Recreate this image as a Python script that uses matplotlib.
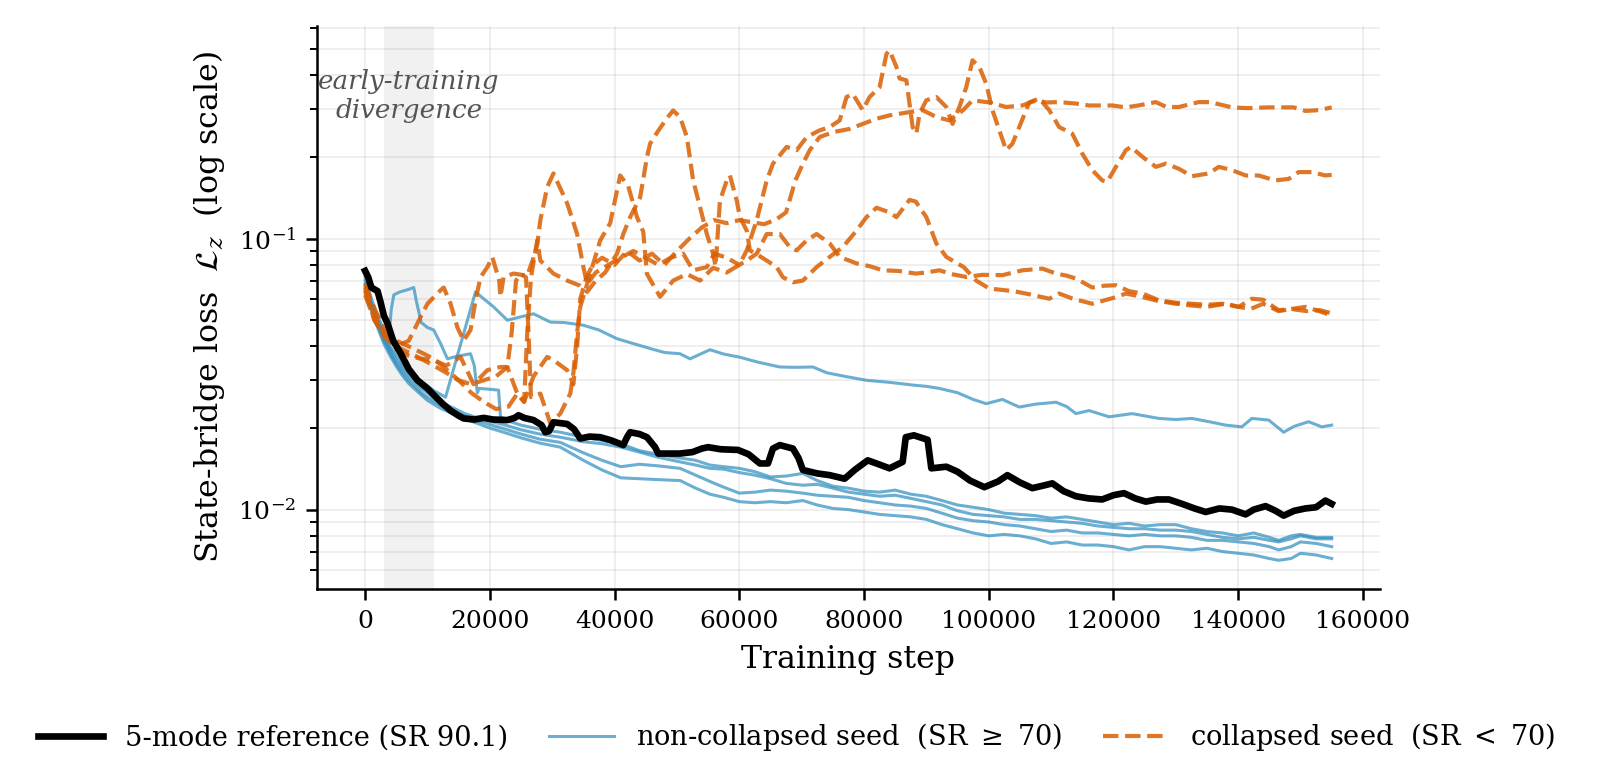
import matplotlib
matplotlib.use("Agg")
import matplotlib.pyplot as plt
from matplotlib.lines import Line2D

# ---------------- data (step, loss) ----------------
REF = [(0,0.076),(500,0.072),(1000,0.066),(1500,0.065),(2000,0.064),(2500,0.058),(3000,0.052),(3600,0.0486),
       (4500,0.042),(5700,0.0377),(7000,0.033),(8400,0.030),(10000,0.028),(11000,0.0265),(12500,0.0245),
       (13700,0.0232),(15000,0.0222),(15800,0.0217),(17500,0.0215),(19000,0.0218),(20500,0.0215),(22800,0.0214),
       (24000,0.0218),(24600,0.0223),(25500,0.0218),(27000,0.0214),(28300,0.0205),(28900,0.0193),(29500,0.0195),
       (30200,0.021),(32400,0.0207),(33500,0.0198),(34500,0.0183),(36000,0.0186),(37700,0.0185),(39500,0.018),
       (41400,0.0173),(42000,0.0185),(42500,0.0193),(44000,0.019),(45200,0.0185),(46500,0.017),(47000,0.0161),
       (50500,0.0161),(52500,0.0163),(54000,0.0168),(55000,0.017),(57000,0.0167),(59800,0.0166),(61500,0.016),
       (63300,0.0148),(64600,0.0148),(65400,0.0168),(66500,0.0173),(68600,0.0168),(69500,0.0155),(70200,0.014),
       (72500,0.0136),(74500,0.0134),(76900,0.013),(78500,0.014),(80600,0.0152),(82000,0.0148),(84100,0.0142),
       (86200,0.015),(86700,0.0185),(88000,0.0188),(90200,0.0181),(90800,0.0142),(93200,0.0144),(95000,0.0138),
       (97000,0.0128),(99300,0.0121),(101500,0.0127),(103000,0.0134),(105000,0.0126),(107000,0.012),(109000,0.0123),
       (110200,0.0125),(112000,0.0117),(114000,0.0112),(116000,0.011),(118200,0.0109),(120000,0.0113),(121700,0.0115),
       (123500,0.011),(125200,0.0107),(127000,0.0109),(128900,0.0109),(131000,0.0105),(133000,0.0101),(134800,0.0098),
       (137000,0.0101),(139000,0.0100),(141200,0.0096),(142500,0.0100),(144400,0.0103),(146000,0.0099),(147300,0.0095),
       (149000,0.0099),(150800,0.0101),(152500,0.0102),(154000,0.0108),(155000,0.0105)]

BLUE_1 = [(0,0.070),(1000,0.058),(2000,0.050),(3000,0.045),(4000,0.040),(5000,0.037),(6000,0.034),(7000,0.032),
          (8000,0.0305),(9000,0.0295),(10000,0.0285),(11000,0.0275),(12900,0.026),(17700,0.0636),(19000,0.060),
          (20600,0.056),(22800,0.050),(24900,0.0514),(27000,0.0528),(29700,0.0492),(32000,0.0490),(35000,0.0479),
          (37500,0.0460),(40400,0.0427),(43000,0.0410),(45700,0.0393),(48000,0.0380),(50500,0.0376),(52100,0.0360),
          (55300,0.0389),(57500,0.0375),(60100,0.0365),(63000,0.0350),(66500,0.0336),(69000,0.0335),(71800,0.0336),
          (74000,0.0320),(77000,0.0310),(80400,0.0300),(84000,0.0295),(87900,0.0288),(90000,0.0285),(92100,0.0280),
          (95000,0.0270),(97500,0.0255),(99600,0.0246),(102200,0.0255),(104900,0.0239),(107500,0.0245),(110800,0.0249),
          (112500,0.0240),(114000,0.0226),(116100,0.0232),(119300,0.0220),(123000,0.0226),(127300,0.0217),
          (130000,0.0215),(132600,0.0217),(135800,0.0210),(138000,0.0205),(140600,0.0202),(142200,0.0217),
          (144900,0.0214),(147300,0.0193),(149000,0.0203),(151300,0.0211),(153400,0.0202),(155000,0.0205)]

BLUE_2 = [(0,0.072),(1000,0.060),(2000,0.052),(3000,0.046),(3800,0.043),(4200,0.055),(4600,0.062),(5500,0.0635),
          (7000,0.065),(7800,0.066),(8200,0.059),(9000,0.049),(10000,0.047),(11000,0.046),(12100,0.041),(13200,0.036),
          (14300,0.0366),(16900,0.0376),(17500,0.034),(18000,0.027),(18300,0.028),(20000,0.0278),(21400,0.0276),
          (21700,0.022),(23000,0.0212),(25000,0.0205),(28000,0.0198),(31300,0.0193),(35000,0.0185),(38000,0.018),
          (41000,0.0175),(44000,0.0165),(47000,0.016),(50500,0.0155),(53000,0.0152),(55300,0.0146),(57500,0.0144),
          (60000,0.0142),(62500,0.0138),(65000,0.0132),(67500,0.0133),(70200,0.0136),(72500,0.0128),(75000,0.0122),
          (77500,0.0120),(80000,0.0117),(82500,0.0116),(85000,0.0118),(87500,0.0114),(90000,0.0112),(92500,0.0108),
          (95000,0.0104),(97500,0.0102),(100000,0.0100),(102500,0.0097),(105000,0.0096),(107500,0.0095),
          (110000,0.0093),(112500,0.0094),(115000,0.0092),(117500,0.0090),(120000,0.0088),(122500,0.0089),
          (125000,0.0087),(127500,0.0088),(130000,0.0088),(132500,0.0085),(135000,0.0083),(137500,0.0082),
          (140000,0.0080),(142500,0.0082),(145000,0.0079),(146500,0.0077),(148500,0.0080),(150000,0.0081),
          (152500,0.0079),(155000,0.0079)]

BLUE_3 = [(0,0.068),(1000,0.057),(2000,0.049),(3000,0.043),(4000,0.039),(5000,0.0355),(6000,0.033),(7000,0.031),
          (8000,0.0295),(9000,0.028),(10000,0.027),(12000,0.025),(14000,0.0238),(16000,0.0226),(18000,0.0218),
          (20000,0.0212),(22500,0.0205),(25000,0.0197),(28000,0.019),(31300,0.0185),(35000,0.0178),(38000,0.0175),
          (41000,0.0170),(44000,0.0163),(47000,0.0156),(50500,0.0150),(53000,0.0146),(55300,0.0142),(57500,0.0141),
          (60000,0.0137),(62500,0.0134),(65000,0.0130),(67500,0.0125),(70200,0.0123),(72500,0.0124),(75000,0.0120),
          (77500,0.0116),(80000,0.0114),(82500,0.0112),(85000,0.0113),(87500,0.0110),(90000,0.0107),(92500,0.0104),
          (95000,0.0099),(97500,0.0096),(100000,0.0095),(102500,0.0094),(105000,0.0092),(107500,0.0092),
          (110000,0.0091),(112500,0.0090),(115000,0.0089),(117500,0.0087),(120000,0.0086),(122500,0.0085),
          (125000,0.0085),(127500,0.0084),(130000,0.0084),(132500,0.0083),(135000,0.0081),(137500,0.0079),
          (140000,0.0078),(142500,0.0079),(145000,0.0077),(146500,0.0076),(148500,0.0078),(150000,0.0080),
          (152500,0.0078),(155000,0.0078)]

BLUE_4 = [(0,0.066),(1000,0.056),(2000,0.048),(3000,0.042),(4000,0.038),(5000,0.0345),(6000,0.032),(7000,0.030),
          (8000,0.0285),(9000,0.027),(10000,0.026),(12000,0.0243),(14000,0.0232),(16000,0.0221),(18000,0.0213),
          (20000,0.0206),(22500,0.0198),(25000,0.0190),(28000,0.0182),(31300,0.0177),(35000,0.0162),(38000,0.0152),
          (41000,0.0144),(44000,0.0147),(47000,0.0145),(50500,0.0142),(53000,0.0134),(55300,0.0127),(57500,0.0121),
          (60000,0.0115),(62500,0.0116),(65000,0.0118),(67500,0.0117),(70200,0.0115),(72500,0.0113),(75000,0.0112),
          (77500,0.0111),(80000,0.0108),(82500,0.0106),(85000,0.0104),(87500,0.0103),(90000,0.0101),(92500,0.0097),
          (95000,0.0093),(97500,0.0091),(100000,0.0090),(102500,0.0088),(105000,0.0087),(107500,0.0085),
          (110000,0.0083),(112500,0.0084),(115000,0.0082),(117500,0.0082),(120000,0.0081),(122500,0.0080),
          (125000,0.0081),(127500,0.0080),(130000,0.0080),(132500,0.0079),(135000,0.0077),(137500,0.0077),
          (140000,0.0076),(142500,0.0075),(145000,0.0073),(146500,0.0071),(148500,0.0073),(150000,0.0076),
          (152500,0.0075),(155000,0.0073)]

BLUE_5 = [(0,0.064),(1000,0.054),(2000,0.047),(3000,0.041),(4000,0.037),(5000,0.0338),(6000,0.0312),(7000,0.0292),
          (8000,0.0278),(9000,0.0265),(10000,0.0253),(12000,0.0237),(14000,0.0226),(16000,0.0216),(18000,0.0208),
          (20000,0.0200),(22500,0.0192),(25000,0.0184),(28000,0.0176),(31300,0.0170),(35000,0.0152),(38000,0.0140),
          (41000,0.0131),(44000,0.0130),(47000,0.0129),(50500,0.0128),(53000,0.0120),(55300,0.0114),(57500,0.0111),
          (60000,0.0107),(62500,0.0106),(65000,0.0107),(67500,0.0106),(70200,0.0108),(72500,0.0104),(75000,0.0101),
          (77500,0.0100),(80000,0.0098),(82500,0.0096),(85000,0.0095),(87500,0.0094),(90000,0.0092),(92500,0.0088),
          (95000,0.0085),(97500,0.0082),(100000,0.0080),(102500,0.0081),(105000,0.0080),(107500,0.0078),
          (110000,0.0075),(112500,0.0076),(115000,0.0074),(117500,0.0074),(120000,0.0073),(122500,0.0071),
          (125000,0.0073),(127500,0.0073),(130000,0.0072),(132500,0.0071),(135000,0.0072),(137500,0.0070),
          (140000,0.0069),(142500,0.0068),(145000,0.0066),(146500,0.0065),(148500,0.0066),(150000,0.0069),
          (152500,0.0068),(155000,0.0066)]

ORANGE_1 = [(0,0.066),(1500,0.052),(3000,0.045),(5000,0.040),(7000,0.038),(9000,0.036),(11000,0.0356),(13000,0.034),
            (15300,0.0366),(17400,0.029),(19600,0.0327),(21700,0.0336),(22800,0.0336),(24400,0.0268),(25500,0.025),
            (27000,0.031),(29200,0.0366),(30200,0.0356),(32400,0.0327),(33400,0.029),(34000,0.040),(34500,0.060),
            (35500,0.072),(36500,0.080),(38000,0.085),(40000,0.080),(42000,0.090),(44000,0.083),(46000,0.088),
            (48000,0.080),(50000,0.090),(52000,0.100),(54000,0.110),(56000,0.117),(58000,0.114),(60000,0.117),
            (62000,0.115),(64000,0.113),(66000,0.118),(67500,0.125),(69000,0.164),(70200,0.189),(71300,0.212),
            (72900,0.237),(75000,0.247),(77700,0.254),(79800,0.265),(82000,0.277),(84100,0.285),(87300,0.293),
            (89400,0.298),(91600,0.281),(93700,0.273),(95900,0.298),(97400,0.324),(100100,0.318),(102800,0.306),
            (105400,0.310),(107600,0.324),(109200,0.318),(111300,0.319),(114000,0.315),(116100,0.310),(119800,0.310),
            (122000,0.305),(124000,0.310),(126800,0.319),(128500,0.306),(130500,0.306),(133700,0.319),(135500,0.319),
            (139000,0.305),(141500,0.303),(144800,0.305),(148900,0.305),(150800,0.296),(153000,0.298),(155000,0.305)]

ORANGE_2 = [(0,0.064),(1500,0.050),(3000,0.044),(5000,0.039),(7000,0.037),(9000,0.036),(11000,0.034),(13000,0.032),
            (15000,0.030),(17000,0.029),(19000,0.030),(21000,0.031),(22800,0.0336),(23500,0.045),(24200,0.070),
            (25000,0.074),(25800,0.072),(26200,0.045),(26600,0.026),(28100,0.0268),(29700,0.0208),(31300,0.0226),
            (32900,0.0268),(33400,0.032),(34000,0.045),(34500,0.056),(36100,0.0743),(37700,0.0985),(39300,0.114),
            (40900,0.171),(42200,0.156),(43600,0.120),(44600,0.106),(45200,0.074),(47300,0.061),(49400,0.070),
            (51600,0.074),(53700,0.070),(55800,0.078),(58000,0.075),(60000,0.080),(61200,0.0905),(62800,0.117),
            (64400,0.164),(65400,0.189),(67600,0.218),(69200,0.212),(70800,0.237),(72900,0.251),(74500,0.258),
            (76100,0.273),(77200,0.333),(78200,0.342),(79800,0.298),(80900,0.333),(82500,0.362),(83600,0.480),
            (84100,0.495),(85200,0.430),(85700,0.390),(86800,0.384),(87800,0.258),(88400,0.244),(88900,0.289),
            (90000,0.324),(91600,0.333),(93200,0.306),(94200,0.265),(95300,0.306),(96400,0.362),(97400,0.455),
            (98500,0.430),(99600,0.373),(100600,0.298),(101700,0.251),(102800,0.212),(103800,0.224),(104900,0.258),
            (106500,0.318),(108100,0.329),(109700,0.298),(111300,0.258),(113400,0.244),(115000,0.206),(116600,0.179),
            (118200,0.164),(119000,0.162),(120400,0.184),(122000,0.212),(122800,0.218),(124700,0.200),(126800,0.184),
            (128400,0.189),(130500,0.181),(132600,0.170),(135300,0.174),(136900,0.184),(139000,0.179),(141200,0.171),
            (143300,0.171),(145900,0.164),(148100,0.166),(149700,0.176),(151800,0.176),(154000,0.171),(155000,0.172)]

ORANGE_3 = [(0,0.068),(1500,0.055),(3000,0.047),(5000,0.042),(7000,0.040),(9000,0.038),(11000,0.036),(13000,0.033),
            (15000,0.030),(17000,0.027),(19000,0.025),(21000,0.0235),(23000,0.024),(24400,0.0268),(25500,0.025),
            (26000,0.045),(26600,0.072),(27600,0.0985),(28100,0.083),(30200,0.0743),(32400,0.070),(34500,0.067),
            (35600,0.0636),(37000,0.070),(38500,0.075),(40400,0.088),(41400,0.104),(42500,0.120),(44100,0.142),
            (45200,0.200),(45700,0.224),(47000,0.250),(48500,0.280),(49400,0.297),(50500,0.281),(51600,0.237),
            (52600,0.164),(53700,0.131),(54800,0.104),(55800,0.088),(56200,0.079),(56900,0.138),(58000,0.164),
            (58500,0.171),(59600,0.138),(60100,0.120),(61200,0.107),(61700,0.0905),(63000,0.087),(64400,0.083),
            (66000,0.0785),(67000,0.072),(68600,0.069),(70200,0.070),(72400,0.0785),(74500,0.0856),(76600,0.093),
            (78800,0.107),(80400,0.120),(82000,0.130),(84100,0.125),(85200,0.120),(87300,0.139),(88300,0.137),
            (90000,0.120),(91600,0.096),(93200,0.0856),(96000,0.0785),(98000,0.070),(100100,0.0654),(104000,0.064),
            (107000,0.062),(109700,0.060),(111300,0.0627),(113500,0.060),(116600,0.0575),(120400,0.0608),
            (122000,0.0627),(124500,0.061),(127000,0.059),(130000,0.0575),(133000,0.0565),(135000,0.056),
            (138000,0.0575),(140100,0.056),(142000,0.055),(144000,0.0575),(146500,0.054),(148500,0.055),
            (151000,0.054),(153000,0.0545),(155000,0.053)]

ORANGE_4 = [(0,0.062),(1500,0.050),(3000,0.044),(5000,0.040),(7000,0.042),(8900,0.0514),(10000,0.0575),(12100,0.0645),
            (12600,0.066),(13700,0.0575),(14800,0.047),(15800,0.042),(16900,0.046),(17700,0.059),(18500,0.072),
            (19600,0.0785),(20400,0.0855),(21500,0.070),(21700,0.061),(22200,0.072),(23800,0.0743),(26000,0.073),
            (27000,0.085),(27600,0.095),(28100,0.117),(29200,0.155),(30200,0.174),(31200,0.155),(32400,0.135),
            (34000,0.104),(35000,0.0785),(35600,0.068),(37000,0.075),(39000,0.080),(41000,0.085),(43000,0.090),
            (45000,0.085),(47000,0.080),(49000,0.085),(51000,0.088),(52600,0.0764),(54800,0.0785),(56000,0.088),
            (58000,0.085),(60000,0.080),(61200,0.083),(62800,0.088),(64400,0.104),(66500,0.104),(68100,0.093),
            (69200,0.0905),(70800,0.0985),(72400,0.104),(74500,0.096),(76100,0.0856),(78800,0.081),(81000,0.079),
            (83000,0.0764),(85500,0.076),(88300,0.0743),(90000,0.075),(92100,0.0764),(94000,0.074),(96400,0.0722),
            (99000,0.0735),(102200,0.0733),(105400,0.0764),(108600,0.0775),(110800,0.0743),(112500,0.073),
            (114000,0.0712),(116600,0.066),(118500,0.067),(120400,0.0673),(122500,0.064),(124700,0.0627),
            (127300,0.0592),(130000,0.058),(132600,0.0575),(135000,0.057),(137500,0.0575),(140100,0.056),
            (142200,0.060),(144000,0.0595),(146500,0.0544),(148500,0.055),(150800,0.056),(153000,0.054),(155000,0.052)]

NON_COLLAPSED = [BLUE_1, BLUE_2, BLUE_3, BLUE_4, BLUE_5]
COLLAPSED = [ORANGE_1, ORANGE_2, ORANGE_3, ORANGE_4]

LABELS = ["5-mode reference (SR 90.1)",
          "non-collapsed seed  (SR $\\geq$ 70)",
          "collapsed seed  (SR $<$ 70)"]
X_TICKS = [0, 20000, 40000, 60000, 80000, 100000, 120000, 140000, 160000]
SPAN = (3000, 11000)

# ---------------- style ----------------
plt.rcParams['font.family'] = ['DejaVu Serif']
plt.rcParams['mathtext.fontset'] = 'dejavuserif'

C_BLUE = '#2b8cbe'
C_ORANGE = '#d95f02'

fig = plt.figure(figsize=(8, 3.91), dpi=200)
ax = fig.add_axes([0.198, 0.247, 0.6645, 0.720])


def unzip(series):
    return [p[0] for p in series], [p[1] for p in series]


ax.axvspan(*SPAN, color='0.55', alpha=0.12, lw=0, zorder=0)

for s in NON_COLLAPSED:
    x, y = unzip(s)
    ax.plot(x, y, color=C_BLUE, lw=1.1, alpha=0.7, zorder=2)
for s in COLLAPSED:
    x, y = unzip(s)
    ax.plot(x, y, color=C_ORANGE, lw=1.5, alpha=0.85, ls='--', zorder=3)
x, y = unzip(REF)
ax.plot(x, y, color='black', lw=2.4, zorder=4)

ax.set_yscale('log')
ax.set_xlim(-7750, 162750)
ax.set_ylim(0.0051, 0.61)
ax.set_xticks(X_TICKS)
ax.set_xticklabels([str(t) for t in X_TICKS])

ax.grid(True, which='major', axis='x', color='0.5', alpha=0.15, lw=0.6)
ax.grid(True, which='both', axis='y', color='0.5', alpha=0.15, lw=0.6)
ax.set_axisbelow(True)

for side in ('top', 'right'):
    ax.spines[side].set_visible(False)
for side in ('left', 'bottom'):
    ax.spines[side].set_linewidth(0.9)

ax.tick_params(axis='both', which='major', labelsize=9, length=4, width=0.9)
ax.tick_params(axis='y', which='minor', length=2.4, width=0.7)

ax.set_xlabel('Training step', fontsize=11.4)
ax.set_ylabel('State-bridge loss  $\\mathcal{L}_z$  (log scale)', fontsize=11.4)

ax.text(7000, 0.335, 'early-training\ndivergence', ha='center', va='center',
        style='italic', color='0.33', fontsize=9.4, linespacing=1.2, zorder=5)

handles = [Line2D([], [], color='black', lw=2.4),
           Line2D([], [], color=C_BLUE, lw=1.1, alpha=0.7),
           Line2D([], [], color=C_ORANGE, lw=1.5, alpha=0.85, ls='--')]
fig.legend(handles, LABELS, loc='center', bbox_to_anchor=(0.498, 0.057), ncol=3,
           frameon=False, fontsize=9.8, handlelength=2.4, columnspacing=1.5)

fig.savefig('out.png', dpi=200)
